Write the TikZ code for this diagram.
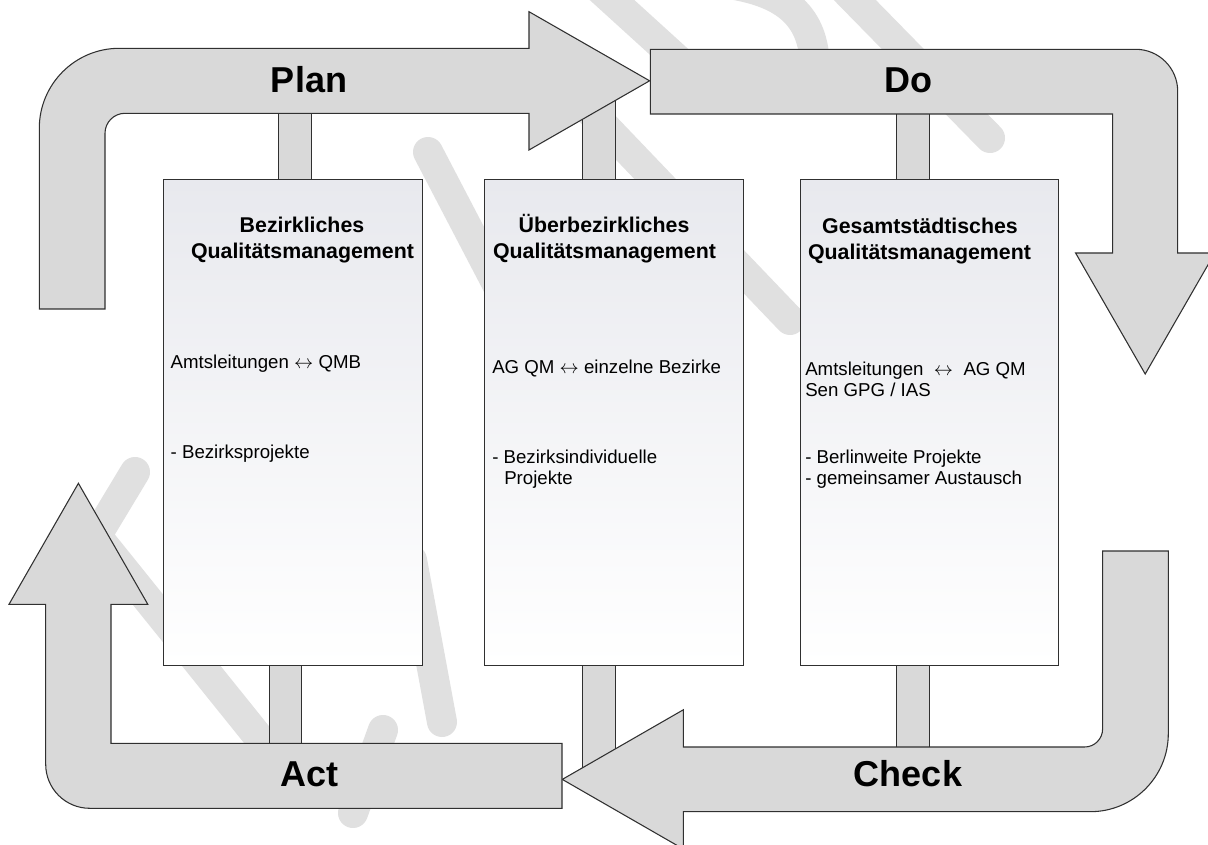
\documentclass[tikz,border=0pt]{standalone}
\usepackage{fontspec}
\setmainfont{Liberation Sans}
\definecolor{arrowfill}{HTML}{D9D9D9}
\definecolor{edgecol}{HTML}{303030}
\definecolor{boxtop}{HTML}{E8E9EE}
\definecolor{wmark}{HTML}{E0E0E0}
\newcommand{\lra}{\ensuremath{\leftrightarrow}}
\tikzset{
 arrowbody/.style={fill=arrowfill, draw=edgecol, line width=0.8pt, line join=miter},
 bar/.style={fill=arrowfill, draw=edgecol, line width=0.75pt},
 wstroke/.style={draw=wmark, line width=22.5pt, line cap=round},
 qbox/.style={draw=edgecol, line width=0.75pt, top color=boxtop, middle color=white, bottom color=white,
   minimum width=193.9pt, minimum height=364.3pt, anchor=north west, inner sep=0pt},
 biglabel/.style={font=\bfseries\fontsize{27}{32}\selectfont, anchor=base, inner sep=0pt},
 titlelabel/.style={font=\bfseries\fontsize{16}{19}\selectfont, anchor=base, inner sep=0pt},
 bodylabel/.style={font=\fontsize{14}{16.5}\selectfont, anchor=base west, inner sep=0pt},
}
\begin{document}
\begin{tikzpicture}[x=0.75pt,y=-0.75pt]
\useasboundingbox (0,0) rectangle (1208,845);
\clip (0,0) rectangle (1208,845);
\fill[white] (0,0) rectangle (1208,845);

% faint background watermark strokes
\draw[wstroke] (428,152) -- (500,290);
\draw[wstroke] (100,540) -- (285,770);
\draw[wstroke] (135,472) -- (85,555);
\draw[wstroke] (353,813) -- (383,730);
\draw[wstroke] (412,560) -- (442,722);
\draw[wstroke] (590,-20) -- (700,80);
\draw[wstroke] (845,-10) -- (990,138);
\draw[wstroke] (570,90) -- (790,320);
\draw[wstroke] (735,-15) .. controls (790,-5) and (815,20) .. (815,70);

% connector bars
\path[bar] (278.3,105) rectangle (311.7,179.3);
\path[bar] (582.6,95) rectangle (615.3,179.3);
\path[bar] (896.6,105) rectangle (929.7,179.3);
\path[bar] (269,665) rectangle (301.8,750);
\path[bar] (582.3,665) rectangle (615.3,785);
\path[bar] (896.8,665) rectangle (929.8,755);

% boxes
\node[qbox] (b1) at (163.3,179.3) {};
\node[qbox] (b2) at (484.4,179.3) {};
\node[qbox] (b3) at (799.7,179.3) {};

% Plan
\draw[arrowbody] (39.3,309) -- (39.3,128.3) arc[start angle=180,end angle=270,radius=80]
  -- (529,48.3) -- (529,11.7) -- (649.6,80.8) -- (529,150) -- (529,113.3)
  -- (125,113.3) arc[start angle=270,end angle=180,radius=20] -- (105,309) -- cycle;
% Do
\draw[arrowbody] (650.4,49.3) -- (1135.7,49.3) arc[start angle=270,end angle=360,radius=42]
  -- (1177.7,253) -- (1214.8,253) -- (1145.2,374) -- (1075.6,253) -- (1112.6,253)
  -- (1112.6,114) -- (650.4,114) -- cycle;
% Check
\draw[arrowbody] (1102.6,551) -- (1168.3,551) -- (1168.3,733.7) arc[start angle=0,end angle=90,radius=78]
  -- (683.3,811.7) -- (683.3,849) -- (562.3,779.4) -- (683.3,709.8) -- (683.3,747)
  -- (1084.6,747) arc[start angle=90,end angle=0,radius=18] -- cycle;
% Act
\draw[arrowbody] (562,743.3) -- (562,808.3) -- (89.7,808.3) arc[start angle=90,end angle=180,radius=44]
  -- (45.7,604.3) -- (9,604.3) -- (78.4,483.3) -- (147.8,604.3) -- (111,604.3) -- (111,743.3) -- cycle;

% arrow labels
\node[biglabel] (lplan) at (309,92.7) {Plan};
\node[biglabel] (ldo) at (908,92.7) {Do};
\node[biglabel] (lact) at (309.4,786.7) {Act};
\node[biglabel] (lcheck) at (908,786.7) {Check};

% titles
\node[titlelabel] (t1a) at (302,232.5) {Bezirkliches};
\node[titlelabel] (t1b) at (302.5,258.3) {Qualitätsmanagement};
\node[titlelabel] (t2a) at (604,232.5) {Überbezirkliches};
\node[titlelabel] (t2b) at (604.5,258.3) {Qualitätsmanagement};
\node[titlelabel] (t3a) at (920,233.5) {Gesamtstädtisches};
\node[titlelabel] (t3b) at (919.5,259.3) {Qualitätsmanagement};

% body text
\node[bodylabel] (x1a) at (170.4,368.5) {Amtsleitungen \lra{} QMB};
\node[bodylabel] (x1b) at (170.4,458.5) {- Bezirksprojekte};
\node[bodylabel] (x2a) at (492,373.5) {AG QM \lra{} einzelne Bezirke};
\node[bodylabel] (x2b) at (492,463.5) {- Bezirksindividuelle};
\node[bodylabel] (x2c) at (504,484.5) {Projekte};
\node[bodylabel] (x3a) at (805,375.5) {Amtsleitungen\ \ \lra\ \ AG QM};
\node[bodylabel] (x3b) at (805,396.5) {Sen GPG / IAS};
\node[bodylabel] (x3c) at (805,463.5) {- Berlinweite Projekte};
\node[bodylabel] (x3d) at (805,484.5) {- gemeinsamer Austausch};
\end{tikzpicture}
\end{document}
